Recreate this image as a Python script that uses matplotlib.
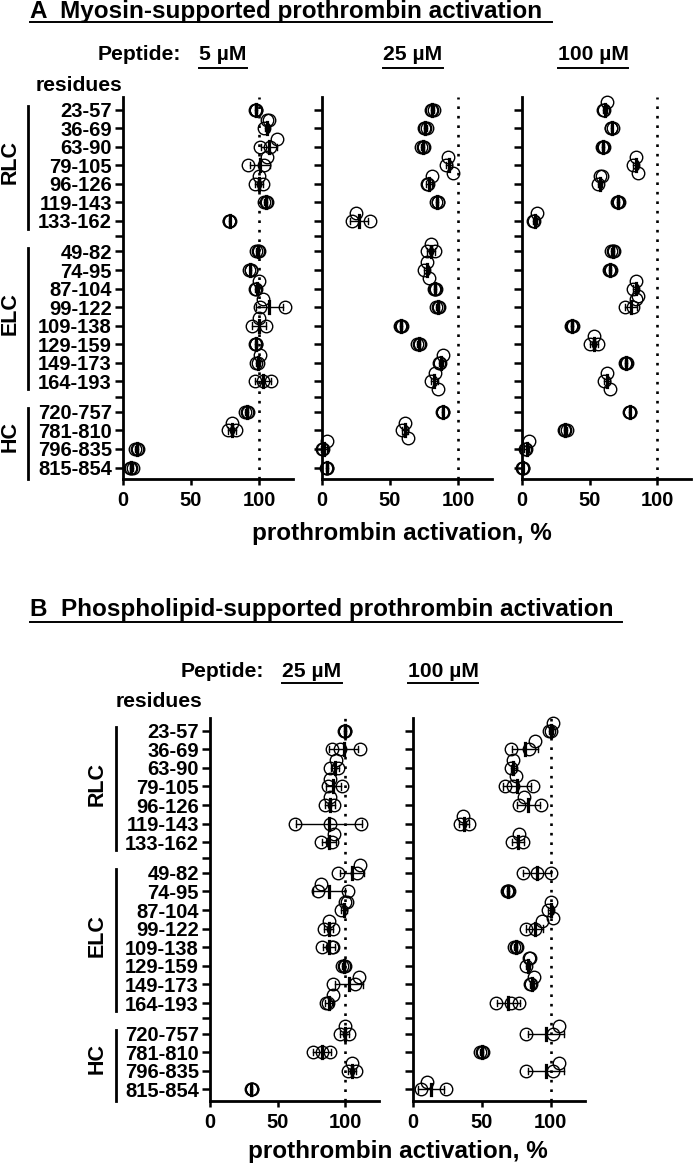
'''
peptide screen: myosin- and phospholipid-supported prothrombin activation
'''
import numpy as np
import matplotlib
matplotlib.use('Agg')
import matplotlib.pyplot as plt
from matplotlib.lines import Line2D

plt.rcParams['font.family'] = ['Liberation Sans', 'DejaVu Sans']
plt.rcParams['font.weight'] = 'bold'

W, H = 693, 1173

residues = ['23-57', '36-69', '63-90', '79-105', '96-126', '119-143', '133-162',
            '49-82', '74-95', '87-104', '99-122', '109-138', '129-159', '149-173', '164-193',
            '720-757', '781-810', '796-835', '815-854']
groups = ['RLC', 'ELC', 'HC']
group_sizes = [7, 8, 4]

# panel A, myosin-supported (3 replicates per peptide)
a_5uM = [[97, 98, 98], [104, 106, 107], [101, 108, 113], [92, 104, 106], [97, 100, 103],
         [104, 105, 106], [78, 78, 79],
         [98, 99, 100], [93, 94, 94], [97, 98, 100], [101, 103, 119], [95, 100, 105],
         [97, 98, 98], [98, 99, 101], [97, 103, 109],
         [90, 91, 92], [77, 80, 83], [9, 10, 11], [5, 6, 7]]
a_25uM = [[80, 81, 82], [75, 76, 77], [73, 74, 75], [91, 93, 96], [77, 78, 81],
          [84, 85, 85], [22, 25, 35],
          [77, 80, 83], [75, 77, 79], [82, 83, 84], [84, 85, 86], [57, 58, 59],
          [70, 71, 72], [86, 87, 89], [80, 83, 85],
          [88, 89, 89], [59, 61, 63], [0, 1, 4], [3, 4, 4]]
a_100uM = [[60, 61, 63], [66, 66, 67], [59, 60, 61], [82, 84, 86], [56, 58, 59],
           [70, 71, 72], [8.5, 9, 11],
           [66, 67, 68], [64, 65, 66], [82, 84, 86], [76, 82, 84], [36, 37, 38],
           [50, 53, 56], [76, 77, 78], [61, 63, 65],
           [79, 80, 80], [31, 32, 33], [2, 3, 5], [0, 0.5, 1]]

# panel B, phospholipid-supported
b_25uM = [[99, 100, 100], [90, 96, 111], [89, 93, 95], [87, 89, 98], [85, 89, 92],
          [63, 89, 112], [82, 90, 92],
          [95, 109, 111], [80, 82, 102], [97, 100, 101], [84, 88, 91], [83, 90, 91],
          [98, 99, 100], [91, 107, 110], [86, 87, 91],
          [96, 100, 103], [76, 83, 89], [102, 105, 108], [30, 31, 31]]
b_100uM = [[99, 100, 102], [71, 84, 89], [71, 73, 75], [67, 73, 87], [77, 81, 93],
           [34, 36, 41], [72, 77, 80],
           [80, 90, 100], [68, 69, 70], [98, 100, 102], [82, 89, 94], [73.5, 74.5, 75.5],
           [82, 84, 85], [85, 86, 88], [60, 71, 77],
           [82, 102, 106], [49, 50, 51], [82, 102, 106], [6, 10, 24]]

xticks = [0, 50, 100]
XMAX = 125
GAP = 1.65


def fx(x):
    return x / W


def fy(y):
    return 1 - y / H


def row_positions():
    pos, gaps, bounds = [], [], []
    y = 0.0
    for gi, n in enumerate(group_sizes):
        if gi > 0:
            gaps.append(y - 1 + GAP / 2)
            y += GAP - 1
        start = y
        for k in range(n):
            pos.append(y)
            y += 1
        bounds.append((start, y - 1))
    return pos, gaps, bounds


pos, gap_ticks, bounds = row_positions()
YTOP, YBOT = -0.68, pos[-1] + 0.62


def jitter(vals, ppu, ppr):
    # stack overlapping circles up/down, identical ones sit on top of each other
    order = sorted(range(len(vals)), key=lambda i: vals[i])
    placed = []
    offs = [0.0] * len(vals)
    for i in order:
        v = vals[i]
        same = [po for pv, po in placed if abs(pv - v) < 1.6]
        if same:
            off = same[0]
        else:
            best, best_d = 0.0, -1
            for off in (0.0, -0.42, 0.42):
                d = min([np.hypot((pv - v) * ppu, (po - off) * ppr) for pv, po in placed] + [99])
                if d >= 7:
                    best = off
                    break
                if d > best_d:
                    best, best_d = off, d
            off = best
        placed.append((v, off))
        offs[i] = off
    return offs


def make_axes(fig, x0, x1, y0, y1):
    return fig.add_axes([fx(x0), fy(y1), fx(x1) - fx(x0), (y1 - y0) / H])


def draw_panel(ax, data, x0, x1, y0, y1, labels):
    ppu = (x1 - x0) / XMAX
    ppr = (y1 - y0) / (YBOT - YTOP)
    ax.set_xlim(0, XMAX)
    ax.set_ylim(YBOT, YTOP)
    ax.axvline(100, color='k', ls=(0, (1, 2.6)), lw=1.9)
    for p, vals in zip(pos, data):
        offs = jitter(vals, ppu, ppr)
        ax.plot(vals, p + np.array(offs), 'o', mfc='none', mec='k', ms=9.0, mew=1.0,
                clip_on=False, zorder=3)
        m = np.mean(vals)
        sd = np.std(vals, ddof=1)
        ax.plot([m - sd, m + sd], [p, p], color='k', lw=1.0, clip_on=False, zorder=4)
        for e in (m - sd, m + sd):
            ax.plot([e, e], [p - 0.17, p + 0.17], color='k', lw=1.0, clip_on=False, zorder=4)
        ax.plot([m, m], [p - 0.32, p + 0.32], color='k', lw=2.3, clip_on=False, zorder=4)
    ticks = sorted(pos + gap_ticks)
    ax.set_yticks(ticks)
    if labels:
        lab = []
        for t in ticks:
            lab.append(residues[pos.index(t)] if t in pos else '')
        ax.set_yticklabels(lab, fontsize=14.5, fontweight='bold')
    else:
        ax.set_yticklabels([])
    ax.set_xticks(xticks)
    ax.set_xticklabels([str(t) for t in xticks], fontsize=14.5, fontweight='bold')
    for s in ('top', 'right'):
        ax.spines[s].set_visible(False)
    for s in ('left', 'bottom'):
        ax.spines[s].set_linewidth(2.0)
    ax.tick_params(axis='y', length=5.5, width=1.8, pad=2.5)
    ax.tick_params(axis='x', length=4, width=1.8, pad=5)
    if labels:
        tr = ax.get_yaxis_transform()
        for g, (b0, b1), end in zip(groups, bounds, (0.42, 0.42, 0.62)):
            ax.plot([-0.559, -0.559], [b0 - 0.2, b1 + end], color='k', lw=2.0,
                    transform=tr, clip_on=False)
            ax.text(-0.665, (b0 + b1) / 2 - 0.15, g, transform=tr, rotation=90,
                    ha='center', va='center', fontsize=15.5, fontweight='bold')


fig = plt.figure(figsize=(W / 100, H / 100), dpi=100)

# panel A
A_Y0, A_Y1 = 97, 479
a_axes = [(123, 293), (322, 492), (522, 691)]
for (x0, x1), d, lab in zip(a_axes, [a_5uM, a_25uM, a_100uM], [True, False, False]):
    ax = make_axes(fig, x0, x1, A_Y0, A_Y1)
    draw_panel(ax, d, x0, x1, A_Y0, A_Y1, lab)

# panel B
B_Y0, B_Y1 = 718, 1101
b_axes = [(210, 379), (413, 585)]
for (x0, x1), d, lab in zip(b_axes, [b_25uM, b_100uM], [True, False]):
    ax = make_axes(fig, x0, x1, B_Y0, B_Y1)
    draw_panel(ax, d, x0, x1, B_Y0, B_Y1, lab)

underlined = []
t = fig.text(fx(30), fy(18), 'A  Myosin-supported prothrombin activation', fontsize=17.5,
             fontweight='bold', va='baseline')
underlined.append((t, 22, 10))
t = fig.text(fx(30), fy(616), 'B  Phospholipid-supported prothrombin activation', fontsize=17.5,
             fontweight='bold', va='baseline')
underlined.append((t, 622, 8))

fig.text(fx(98), fy(60), 'Peptide:', fontsize=15.2, fontweight='bold', va='baseline')
for x, s in [(223, '5 µM'), (413, '25 µM'), (593, '100 µM')]:
    t = fig.text(fx(x), fy(60), s, fontsize=15.2, fontweight='bold', va='baseline', ha='center')
    underlined.append((t, 68, 0))
fig.text(fx(36), fy(91), 'residues', fontsize=15.2, fontweight='bold', va='baseline')

fig.text(fx(181), fy(677), 'Peptide:', fontsize=15.2, fontweight='bold', va='baseline')
for x, s in [(312, '25 µM'), (443, '100 µM')]:
    t = fig.text(fx(x), fy(677), s, fontsize=15.2, fontweight='bold', va='baseline', ha='center')
    underlined.append((t, 683, 0))
fig.text(fx(116), fy(707), 'residues', fontsize=15.2, fontweight='bold', va='baseline')

fig.text(fx(402), fy(540), 'prothrombin activation, %', fontsize=17.5, fontweight='bold',
         va='baseline', ha='center')
fig.text(fx(398), fy(1158), 'prothrombin activation, %', fontsize=17.5, fontweight='bold',
         va='baseline', ha='center')

fig.canvas.draw()
for t, y, extra in underlined:
    bb = t.get_window_extent()
    fig.add_artist(Line2D([bb.x0 / W, (bb.x1 + extra) / W], [fy(y), fy(y)],
                          transform=fig.transFigure, color='k', lw=1.4))

fig.savefig('out.png', dpi=100)
